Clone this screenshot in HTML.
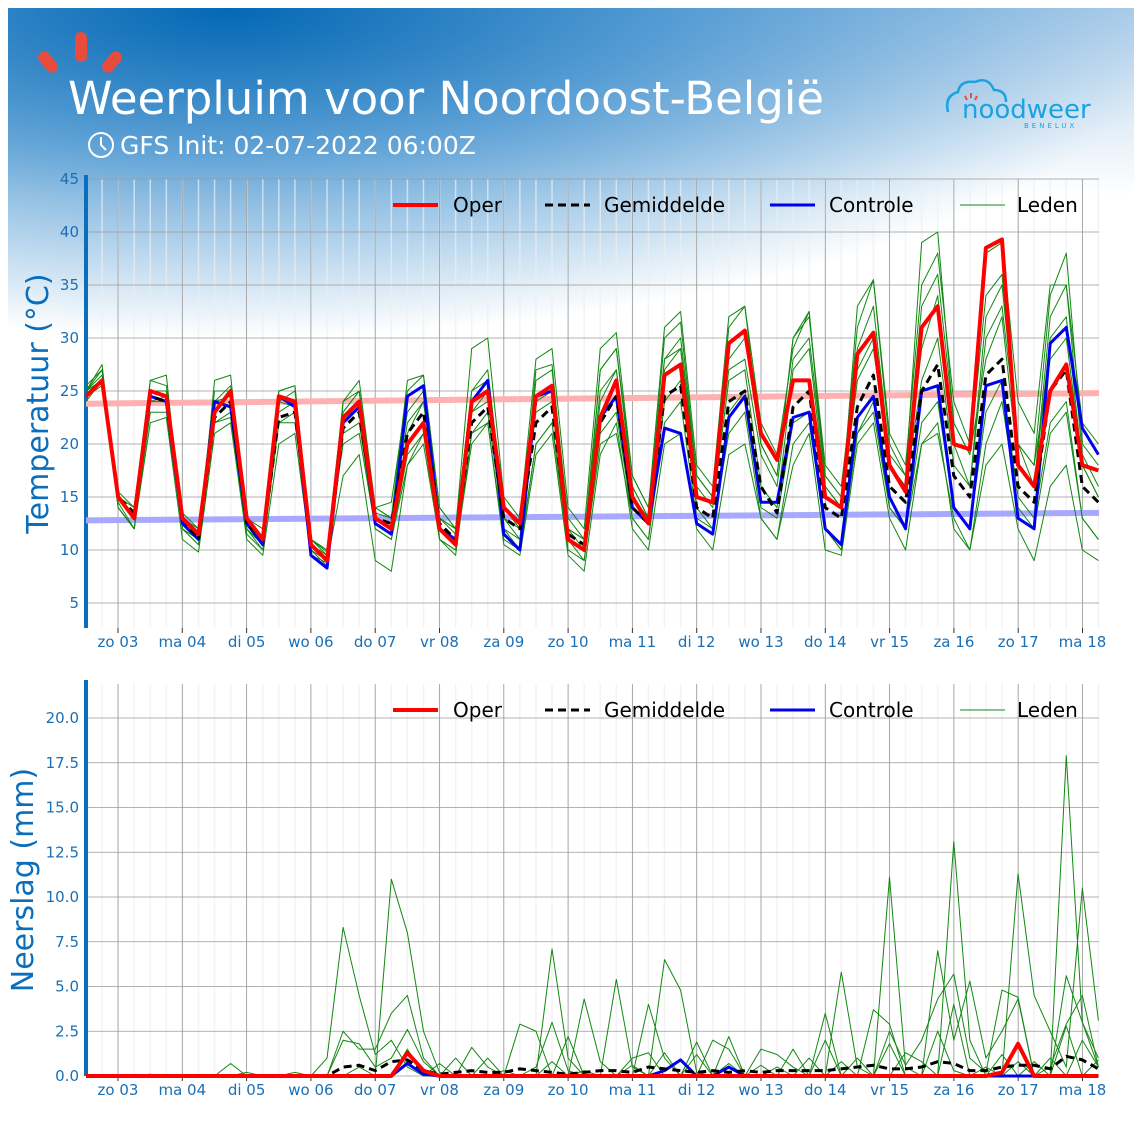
<!DOCTYPE html>
<html><head><meta charset="utf-8">
<style>
html,body{margin:0;padding:0;background:#fff;}
#wrap{position:relative;width:1140px;height:1140px;overflow:hidden;font-family:"DejaVu Sans","Liberation Sans",sans-serif;}
#bg{position:absolute;left:8px;top:8px;width:1126px;height:340px;
background:radial-gradient(ellipse 950px 330px at 220px 0px,#0468b4 0%,rgba(40,130,200,0.7) 45%,rgba(255,255,255,0) 100%),
linear-gradient(180deg,rgba(80,150,210,0.45) 0%,rgba(255,255,255,0) 55%);}
svg{position:absolute;left:0;top:0;}
</style></head><body>
<div id="wrap">
<div id="bg"></div>
<svg id="chart" width="1140" height="1140">
 <g>
  <rect x="75" y="32" width="12" height="30" rx="6" fill="#e84c3d"/>
  <rect x="42" y="50" width="12" height="24" rx="6" fill="#e84c3d" transform="rotate(-40 48 62)"/>
  <rect x="106" y="50" width="12" height="24" rx="6" fill="#e84c3d" transform="rotate(40 112 62)"/>
 </g>
 <text x="68" y="114" font-size="45" fill="#fff" font-family="DejaVu Sans, sans-serif">Weerpluim voor Noordoost-België</text>
 <g>
  <circle cx="101" cy="145" r="12" fill="none" stroke="#fff" stroke-width="2"/>
  <path d="M101 137 V145 L106 150" fill="none" stroke="#fff" stroke-width="2"/>
 </g>
 <text x="120" y="154" font-size="25" fill="#fff">GFS Init: 02-07-2022 06:00Z</text>
 <g>
  <path d="M948 112 Q944 96 958 92 Q960 80 975 82 Q988 76 994 90 Q1006 90 1006 102" fill="none" stroke="#1aa3e0" stroke-width="2.5"/>
  <path d="M965 96 l2 4 M971 93 v5 M977 96 l-2 4" stroke="#e84c3d" stroke-width="2"/>
  <text x="962" y="118" font-size="26" fill="#1aa3e0">noodweer</text>
  <text x="1024" y="128" font-size="7" fill="#1aa3e0" letter-spacing="3">BENELUX</text>
 </g>
 <g id="top"></g>
 <g id="bot"></g>
</svg>
</div>
<script>
// ---- temperature data (6-hourly, from 02-07 12Z) ----
const dayLabels=["zo 03","ma 04","di 05","wo 06","do 07","vr 08","za 09","zo 10","ma 11","di 12","wo 13","do 14","vr 15","za 16","zo 17","ma 18"];
const tempTicks=[5,10,15,20,25,30,35,40,45];
const precTicks=[0,2.5,5,7.5,10,12.5,15,17.5,20];
const tOper=[24.5,26,15,13,25,24.5,13,11.5,23,25,13,11,24.5,24,10.5,9,22.5,24,13,12,20,22,12,10.5,24,25,14,12.5,24.5,25.5,11,10,22.5,26,15,12.5,26.5,27.5,15,14.5,29.5,30.7,21,18.5,26,26,15,14,28.5,30.5,18,15.5,31,33,20,19.5,38.5,39.3,18,16,25,27.5,18,17.5];
const tMean=[24.5,26,15,13.5,24.5,24,13,11,22.5,24,12.5,11,22.5,23,10.5,9,21.5,23,13,12.5,21,23,12.5,11,22,23.5,13,12,22,23.5,11.5,10.5,22,24.5,14,12.5,24.5,25.5,14,13,24,25,16,13.5,23.5,25,14,13,23.5,26.5,16,14.5,25,27.5,17,15,26.5,28,16,14.5,25,27,16,14.5];
const tCtrl=[24.5,26,15,13,24.5,24,12.5,11,24,23.5,12.5,10.5,24.5,23.5,9.5,8.3,22,23.5,12.5,11.5,24.5,25.5,12,11,24,26,11.5,10,24.5,25,11,10,22.5,24.5,14,12.5,21.5,21,12.5,11.5,22.5,24.5,14.5,14.5,22.5,23,12,10.5,22.5,24.5,15,12,25,25.5,14,12,25.5,26,13,12,29.5,31,21.5,19];
const tM1=[25,27.5,14,12,26,26.5,12,10.5,26,26.5,12,10,25,25.5,10,8.5,24,26,14,13,26,26.5,14,12,25,26,12,11,27,27.5,12,10,27,29,16,13,30,31.5,17,15,31,33,20,17,30,32.5,16,14,33,35.5,20,17,39,40,22,19,34,36,20,18,34,38,20,18];
const tM2=[25.5,27,14.5,12,22,22.5,11,9.8,21,22,11,9.5,20,21,9.5,8.8,17,19,9,8,18,21,11,10,20,22,10.5,9.5,19,21,9.5,8,19,22,12,10,20,21,12,10,19,20,13,11,18,21,10,9.5,20,22,13,10,20,22,12,10,20,24,14,12,21,23,13,11];
const tM3=[25,26.5,15.5,14,26,25.5,13.5,12,25,25,13,11,25,25.5,11,10,23,25,14,14.5,25,26.5,14,12,29,30,15,13,28,29,14,12,29,30.5,17,14,31,32.5,18,16,32,33,22,19,29,32.5,17,15,31,35.5,21,18,35,38,24,20,38,39,24,21,35,35,22,20];
const tM4=[24,26,14,12,23,23,12,10.5,22,23,12,10.5,22,22,11,9.8,20,21,12,11,19,21,11,10,21,22,11,10,20,22,10,9,21,23,13,11,22,24,13,12,21,23,13,11,20,22,12,10,21,24,14,12,22,24,14,12,23,26,15,13,22,24,13,11];
const tM5=[25,27,14,12,24,24.5,12,11,23,25,12,10.5,23,24,10.5,9.5,23,25,14,13,22,24,13,12,23,24,13,11,23,24,12,11,24,27,15,13,27,29,16,14,26,27,16,14,27,29,16,14,26,29,18,16,29,34,20,16,32,35,20,18,28,30,18,15];
const tM6=[24.5,25.5,15,13,25,25,13,11.5,24,24.5,13,11,24,23.5,11,10,24,25,13,12,21,24,13,11.5,23,25,13,12,24,25,12,11,25,27,16,13,28,29,17,15,27,28,19,16,28,30,17,15,27,30,18,16,26,30,18,16,30,33,20,16,30,32,18,15];
const tM7=[25,26,15,14,24,24,12.5,11,22,22.5,11.5,10,22,23,10,9,21,22,12,11,18,20,11,9.5,21,23,12,10,20,22,11,9,20,21,13,11,24,26,14,12,23,25,14,13,22,23,12,10,21,23,14,12,20,21,13,10,18,20,12,9,16,18,10,9];
const tM8=[25,26,15,13,25,25,13,12,24,25.5,13,12,24,25,11,9.5,22,24,13.5,13,23,25,13,12,25,27,14,12,26,27,13,11,27,29,17,14,28,30,17,15,28,30,20,17,30,32,18,16,29,33,19,17,33,36,22,19,28,32,18,16,32,35,19,16];
const tClimHi=[23.8,24.8];
const tClimLo=[12.8,13.5];
// ---- precipitation data ----
const pOper=[0,0,0,0,0,0,0,0, 0,0,0,0,0,0,0,0, 0,0,0,0,1.3,0.3,0,0, 0,0,0,0,0,0,0,0, 0,0,0,0,0,0,0,0, 0,0,0,0,0,0,0,0, 0,0,0,0,0,0,0,0, 0,0.2,1.8,0,0,0,0,0];
const pMean=[0,0,0,0,0,0,0,0, 0,0,0,0,0,0,0,0, 0.5,0.6,0.3,0.8,0.9,0.3,0.1,0.2, 0.3,0.2,0.2,0.4,0.3,0.2,0.1,0.2, 0.3,0.3,0.2,0.5,0.4,0.3,0.2,0.3, 0.2,0.3,0.2,0.3,0.3,0.3,0.3,0.4, 0.5,0.6,0.4,0.4,0.5,0.8,0.7,0.3, 0.3,0.5,0.6,0.6,0.4,1.1,0.9,0.4];
const pCtrl=[0,0,0,0,0,0,0,0, 0,0,0,0,0,0,0,0, 0,0,0,0,0.7,0.1,0,0, 0,0,0,0,0,0,0,0, 0,0,0,0,0.3,0.9,0,0, 0.5,0,0,0,0,0,0,0, 0,0,0,0,0,0,0,0, 0,0,0,0,0,0,0,0];
const pM1=[0,0,0,0,0,0,0,0, 0,0,0,0,0,0,0,1.0, 8.3,4.5,1.2,2.0,0.5,0,0,0, 0,0,0,0,0,7.1,1.0,0, 0,5.4,0.5,0,0,0,0,0, 0,0,0,0,0,0,0,5.8, 0.5,0,0,0,0,0,13.1,2.0, 0,0,0,0,0,17.9,3.0,0.5];
const pM2=[0,0,0,0,0,0,0,0, 0,0,0,0,0,0,0,0, 0,0,0,11,8,2.5,0.2,0, 0,0,0,2.9,2.5,0,0,0, 0,0,0,0,6.5,4.8,0.2,0, 0,0,0,0,0,0,0,0, 0,0,11.1,0.5,0,0,0,0, 0,0,11.3,4.5,2.5,0.5,10.5,3.1];
const pM3=[0,0,0,0,0,0,0,0, 0,0,0,0,0,0,0,0, 2.5,1.5,1.5,3.5,4.5,1,0,0, 1.6,0.5,0,0,0,0,0,4.3, 0.8,0,0,4,1,0,0,0, 0,0,1.5,1.2,0.5,0,3.5,0, 0,3.7,2.9,0,0,7,2,5.3, 1,2.5,4.3,0,0,5.6,3,1];
const pM4=[0,0,0,0,0,0,0,0, 0,0,0,0,0,0,0,0, 2,1.8,0.5,1,2.6,0.8,0,1, 0,0,0,0,0.5,3,0.3,0, 0,0,1,1.3,0,0,0,2, 1.5,0,0,0,0,1,0,0.8, 0,0,2.5,0.6,2,4.3,5.7,1, 0.2,4.8,4.4,0,0.5,2.9,4.5,0.5];
const pM5=[0,0,0,0,0,0,0,0, 0,0,0.2,0,0,0.2,0,0, 0,0.5,0,0,1.5,0,0.7,0, 0,0,0.3,0,0,0.8,0,0.3, 0,0,0,0,1.3,0,1.9,0, 2.2,0,0.6,0,1.5,0,0,0, 1,0,0,1.3,0.8,0,4,0, 0.5,0,0.8,0,1,0,2,0.5];
const pM6=[0,0,0,0,0.1,0,0,0, 0,0.7,0,0,0,0,0,0, 0,0,0,0,0.8,0,0,0, 0,1,0,0,0,0,2.2,0, 0,0,0.6,0,0,0,1.2,0, 0.7,0,0,0.5,0,0,2,0, 0,0,1.8,0,0,2.5,0.3,0, 0,1.2,0,0.8,0,2.8,0,0.9];

const NS="http://www.w3.org/2000/svg";
const X0=86,X1=1099,STEP=16.07;
function xAt(i){return X0+i*STEP;}
function xDay(d){return 118+d*64.3;}
function mk(tag,attrs,parent){const e=document.createElementNS(NS,tag);for(const k in attrs)e.setAttribute(k,attrs[k]);parent.appendChild(e);return e;}

function panel(g,cfg){
 const y=v=>cfg.yb-(v-cfg.vmin)*(cfg.yb-cfg.yt)/(cfg.vmax-cfg.vmin);
 for(let i=0;i<64;i++){const x=xAt(i);const l=mk('line',{x1:x,x2:x,y1:cfg.yt,y2:cfg.yb,stroke:'#eeeeee','stroke-width':1.5,'stroke-opacity':0.7},g);
  }
 dayLabels.forEach((lab,d)=>{const x=xDay(d);
  const l=mk('line',{x1:x,x2:x,y1:cfg.yt,y2:cfg.yb,stroke:'#9a9a9a','stroke-width':0.8},g);
  
  mk('line',{x1:x,x2:x,y1:cfg.yb,y2:cfg.yb+5,stroke:'#333','stroke-width':1},g);
  const t=mk('text',{x:x,y:cfg.yb+19,'font-size':15,fill:'#1a6fb5','text-anchor':'middle'},g);t.textContent=lab;
  });
 cfg.ticks.forEach(v=>{const yy=y(v);
  const l=mk('line',{x1:X0,x2:X1,y1:yy,y2:yy,stroke:'#9a9a9a','stroke-width':0.8},g);
  
  const t=mk('text',{x:79,y:yy+5,'font-size':15,fill:'#1a6fb5','text-anchor':'end'},g);t.textContent=cfg.fmt(v);
  });
 const ax=mk('rect',{x:84,y:cfg.yt-4,width:4,height:cfg.yb-cfg.yt+4,fill:'#0a6ebd'},g);
 
 const tt=mk('text',{x:0,y:0,'font-size':30,fill:'#0a6ebd','text-anchor':'middle',transform:`translate(${cfg.titleX},${(cfg.yt+cfg.yb)/2}) rotate(-90)`},g);
 tt.textContent=cfg.title;
 const line=(arr,attrs,name)=>{const p=mk('polyline',Object.assign({points:arr.map((v,i)=>xAt(i)+','+y(v)).join(' '),fill:'none','stroke-linejoin':'round'},attrs),g);
  };
 if(cfg.clim){cfg.clim.forEach((c,k)=>{const p=mk('line',{x1:X0,x2:X1,y1:y(c[0]),y2:y(c[1]),stroke:k?'#a8a8ff':'#ffb0b0','stroke-width':6},g);
  });}
 cfg.members.forEach((m,k)=>line(m,{stroke:'#118811','stroke-width':1},'member-'+(k+1)));
 line(cfg.ctrl,{stroke:'#0000ee','stroke-width':3},'control-line');
 line(cfg.mean,{stroke:'#000','stroke-width':3,'stroke-dasharray':'8,5'},'mean-line');
 line(cfg.oper,{stroke:'#ff0000','stroke-width':4},'oper-line');
 const ly=cfg.yt+26;
 const leg=[['Oper','#ff0000',4,null,393,453],['Gemiddelde','#000',3,'8,5',545,604],['Controle','#0000ee',3,null,770,829],['Leden','#118811',1,null,960,1017]];
 leg.forEach(L=>{const le=mk('g',{},g);
  const a={x1:L[4],x2:L[4]+45,y1:ly,y2:ly,stroke:L[1],'stroke-width':L[2]};if(L[3])a['stroke-dasharray']=L[3];mk('line',a,le);
  const t=mk('text',{x:L[5],y:ly+7,'font-size':20,fill:'#000'},le);t.textContent=L[0];});
}
panel(document.getElementById('top'),{yt:179,yb:628,vmin:45-(628-179)/10.6,vmax:45,ticks:tempTicks,fmt:v=>String(v),title:'Temperatuur (°C)',titleX:48,
 oper:tOper,mean:tMean,ctrl:tCtrl,members:[tM1,tM2,tM3,tM4,tM5,tM6,tM7,tM8],clim:[tClimHi,tClimLo]});
panel(document.getElementById('bot'),{yt:684,yb:1076,vmin:0,vmax:20*(1076-684)/358,ticks:precTicks,fmt:v=>v.toFixed(1),title:'Neerslag (mm)',titleX:33,
 oper:pOper,mean:pMean,ctrl:pCtrl,members:[pM1,pM2,pM3,pM4,pM5,pM6]});
</script>
</body></html>
